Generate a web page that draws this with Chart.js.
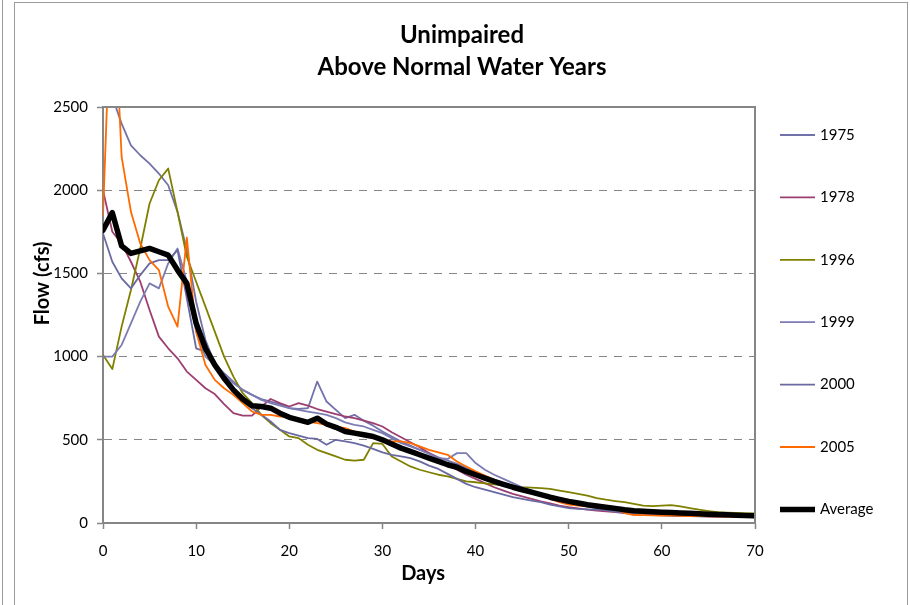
<!DOCTYPE html>
<html>
<head>
<meta charset="utf-8">
<script src="https://cdn.jsdelivr.net/npm/chart.js@4.4.1/dist/chart.umd.min.js"></script>
<style>
  html, body { margin: 0; padding: 0; background: #fff; }
  #wrap { position: relative; width: 910px; height: 605px; overflow: hidden; }
  #edge { position: absolute; left: 2px; top: 0; width: 1px; height: 605px; background: #9a9a9a; }
  #box { position: absolute; left: 14px; top: 2px; width: 894px; height: 620px; border: 1px solid #9a9a9a; box-sizing: border-box; }
  canvas { position: absolute; left: 0; top: 0; }
</style>
</head>
<body>
<div id="wrap">
  <div id="edge"></div>
  <div id="box"></div>
  <canvas id="flowChart" width="910" height="605"></canvas>
</div>
<script>
// days 0..70
const days = [
  0, 1, 2, 3, 4, 5, 6, 7, 8, 9,
  10, 11, 12, 13, 14, 15, 16, 17, 18, 19,
  20, 21, 22, 23, 24, 25, 26, 27, 28, 29,
  30, 31, 32, 33, 34, 35, 36, 37, 38, 39,
  40, 41, 42, 43, 44, 45, 46, 47, 48, 49,
  50, 51, 52, 53, 54, 55, 56, 57, 58, 59,
  60, 61, 62, 63, 64, 65, 66, 67, 68, 69,
  70
];

// flow (cfs)
const flow1975 = [
  2950, 2560, 2400, 2270, 2210, 2160, 2100, 2030, 1870, 1640,
  1330, 1100, 960, 900, 850, 800, 770, 745, 730, 715,
  690, 685, 690, 850, 730, 680, 630, 650, 615, 585,
  550, 520, 490, 465, 440, 420, 395, 375, 355, 330,
  300, 275, 255, 235, 215, 200, 185, 170, 155, 140,
  125, 112, 100, 92, 85, 78, 72, 67, 62, 58,
  55, 52, 50, 48, 46, 44, 42, 40, 39, 38,
  37
];
const flow1978 = [
  2000, 1750, 1680, 1570, 1450, 1280, 1120, 1050, 990, 910,
  860, 810, 775, 715, 660, 645, 645, 700, 745, 720,
  700, 720, 705, 685, 670, 655, 640, 630, 615, 600,
  580, 545, 515, 485, 455, 420, 390, 355, 320, 290,
  265, 240, 215, 195, 175, 160, 145, 130, 118, 105,
  95, 88, 80, 75, 70, 65, 60, 55, 52, 50,
  48, 46, 45, 43, 42, 41, 40, 39, 38, 37,
  36
];
const flow1996 = [
  1010, 925, 1180, 1400, 1650, 1920, 2060, 2130, 1870, 1600,
  1450, 1300, 1150, 1000, 880, 780, 720, 650, 600, 560,
  520, 510, 470, 440, 420, 400, 380, 375, 380, 480,
  475, 400, 370, 340, 320, 305, 290, 280, 265, 250,
  245, 238, 232, 225, 220, 215, 212, 210, 205, 195,
  185, 175, 165, 150, 140, 132, 125, 115, 105, 102,
  105, 108, 100, 90, 80, 72, 65, 62, 60, 58,
  57
];
const flow1999 = [
  1000, 1000, 1070, 1200, 1330, 1440, 1410, 1560, 1650, 1450,
  1150, 1000, 950, 890, 840, 800, 770, 740, 720, 705,
  690, 680, 670, 660, 650, 630, 605, 590, 580, 560,
  540, 510, 480, 460, 440, 415, 390, 385, 420, 420,
  360, 320, 290, 265, 240, 215, 195, 175, 155, 140,
  125, 110, 100, 88, 78, 70, 64, 58, 54, 50,
  48, 46, 44, 42, 41, 40, 39, 38, 37, 36,
  35
];
const flow2000 = [
  1740, 1570, 1470, 1410, 1490, 1560, 1580, 1580, 1640, 1350,
  1050, 1030, 940, 860, 790, 730, 690, 650, 610, 560,
  540, 525, 510, 505, 470, 500, 490, 480, 465, 445,
  425, 410, 400, 390, 370, 345, 325, 295, 265, 235,
  215, 200, 185, 170, 155, 145, 135, 125, 110, 100,
  90, 85, 82, 80, 78, 70, 62, 55, 50, 48,
  46, 44, 42, 41, 40, 39, 38, 37, 36, 35,
  34
];
const flow2005 = [
  1850, 3400, 2200, 1870, 1680, 1580, 1520, 1300, 1180, 1715,
  1150, 950, 860, 810, 770, 720, 670, 650, 650, 640,
  640, 620, 610, 600, 590, 580, 570, 550, 530, 510,
  500, 490, 490, 480, 460, 440, 425, 410, 370, 340,
  310, 285, 260, 240, 220, 200, 180, 165, 145, 125,
  110, 105, 100, 98, 95, 85, 60, 48, 47, 46,
  45, 44, 43, 42, 41, 40, 39, 38, 37, 37,
  36
];
const flowAverage = [
  1760, 1865, 1665, 1620, 1635, 1650, 1630, 1610, 1520, 1440,
  1200, 1050, 950, 870, 800, 745, 705, 700, 690, 660,
  635, 620, 605, 630, 595, 575, 550, 540, 530, 520,
  500, 475, 450, 430, 410, 390, 370, 350, 335, 310,
  290, 270, 250, 232, 215, 200, 185, 170, 155, 142,
  130, 120, 110, 102, 95, 88, 80, 74, 70, 67,
  65, 63, 60, 58, 55, 53, 51, 49, 47, 45,
  43
];

const seriesNames = ["1975", "1978", "1996", "1999", "2000", "2005", "Average"];
const seriesValues = [flow1975, flow1978, flow1996, flow1999, flow2000, flow2005, flowAverage];
const seriesColors = ["#7272aa", "#9c3f70", "#808000", "#7c7cb4", "#6a6aa2", "#ff6a00", "#000000"];
const seriesWidths = [1.8, 1.8, 1.8, 1.8, 1.8, 1.8, 5.5];

const yTicks = [0, 500, 1000, 1500, 2000, 2500];
const xTicks = [0, 10, 20, 30, 40, 50, 60, 70];

const gray = "#868686";
const fontFamily = "Lato, 'Open Sans', sans-serif";

// top and right edges of the plot box
const plotFrame = {
  id: "plotFrame",
  afterDatasetsDraw(chart) {
    const { ctx, chartArea } = chart;
    ctx.save();
    ctx.strokeStyle = gray;
    ctx.lineWidth = 2;
    ctx.beginPath();
    ctx.moveTo(chartArea.left, chartArea.top);
    ctx.lineTo(chartArea.right, chartArea.top);
    ctx.lineTo(chartArea.right, chartArea.bottom);
    ctx.stroke();
    ctx.restore();
  }
};

// axis titles are a little off centre in the original, so they are placed here
const axisTitles = {
  id: "axisTitles",
  afterDraw(chart) {
    const { ctx, chartArea } = chart;
    ctx.save();
    ctx.font = "bold 20px " + fontFamily;
    ctx.fillStyle = "#000";
    ctx.textAlign = "center";
    ctx.textBaseline = "middle";
    ctx.fillText("Days", chartArea.left + chartArea.width * 0.491, chartArea.bottom + 51);
    ctx.translate(43, chartArea.top + chartArea.height * 0.424);
    ctx.rotate(-Math.PI / 2);
    ctx.fillText("Flow (cfs)", 0, 0);
    ctx.restore();
  }
};

// legend on the right side, one entry per dataset
const sideLegend = {
  id: "sideLegend",
  afterDraw(chart) {
    const { ctx, chartArea } = chart;
    const x0 = chartArea.right + 25;
    const step = chartArea.height * 0.15;
    ctx.save();
    ctx.font = "15px " + fontFamily;
    ctx.textBaseline = "middle";
    ctx.textAlign = "left";
    chart.data.datasets.forEach((ds, i) => {
      const y = chartArea.top + 28 + step * i;
      ctx.strokeStyle = ds.borderColor;
      ctx.lineWidth = ds.borderWidth;
      ctx.lineCap = "butt";
      ctx.beginPath();
      ctx.moveTo(x0, y);
      ctx.lineTo(x0 + 35, y);
      ctx.stroke();
      ctx.fillStyle = "#000";
      ctx.fillText(ds.label, x0 + 40, y);
    });
    ctx.restore();
  }
};

function buildDatasets() {
  return seriesNames.map((name, i) => ({
    label: name,
    data: days.map((d, j) => ({ x: d, y: seriesValues[i][j] })),
    borderColor: seriesColors[i],
    backgroundColor: seriesColors[i],
    borderWidth: seriesWidths[i],
    borderJoinStyle: "round",
    borderCapStyle: "round",
    pointRadius: 0,
    tension: 0,
    fill: false,
    order: seriesNames.length - i
  }));
}

window.addEventListener("DOMContentLoaded", () => {
  const ctx = document.getElementById("flowChart").getContext("2d");
  new Chart(ctx, {
    type: "line",
    data: { datasets: buildDatasets() },
    options: {
      responsive: false,
      animation: false,
      devicePixelRatio: 1,
      layout: { padding: { left: 14, right: 0, top: 0, bottom: 0 } },
      plugins: {
        legend: { display: false },
        tooltip: { enabled: false },
        title: {
          display: true,
          text: ["Unimpaired", "Above Normal Water Years"],
          color: "#000",
          font: { family: fontFamily, size: 24, weight: "bold", lineHeight: "32px" },
          padding: { top: 19, bottom: 24 }
        }
      },
      scales: {
        x: {
          type: "linear",
          min: 0,
          max: 70,
          afterBuildTicks: (s) => { s.ticks = xTicks.map(v => ({ value: v })); },
          afterFit: (s) => { s.height = 82; },
          border: { display: true, color: gray, width: 2 },
          grid: { drawOnChartArea: false, drawTicks: true, tickLength: 6, tickColor: gray, tickWidth: 1.5 },
          ticks: { color: "#000", font: { family: fontFamily, size: 15 }, padding: 13, maxRotation: 0 }
        },
        y: {
          min: 0,
          max: 2500,
          afterBuildTicks: (s) => { s.ticks = yTicks.map(v => ({ value: v })); },
          afterFit: (s) => { s.width = 89; },
          border: { display: true, color: gray, width: 2, dash: [8, 7] },
          grid: {
            color: gray,
            lineWidth: 1,
            drawTicks: true,
            tickLength: 6,
            tickColor: gray,
            tickWidth: 1.5,
            tickBorderDash: []
          },
          ticks: {
            color: "#000",
            font: { family: fontFamily, size: 15 },
            padding: 9,
            callback: (v) => String(v)
          }
        },
        side: {
          position: "right",
          display: true,
          afterFit: (s) => { s.width = 155; },
          border: { display: false },
          grid: { display: false },
          ticks: { display: false }
        }
      }
    },
    plugins: [plotFrame, axisTitles, sideLegend]
  });
});
</script>
</body>
</html>
